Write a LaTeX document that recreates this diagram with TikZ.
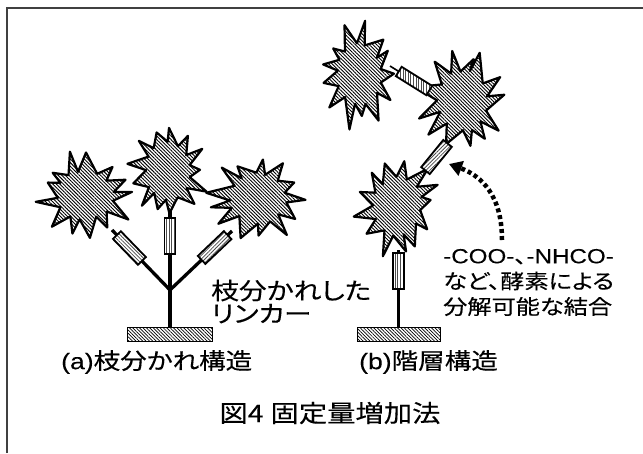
\documentclass[tikz,border=0pt]{standalone}
\usepackage{fontspec}
\newfontfamily\jp[FakeStretch=1.18,FakeBold=0.25,RawFeature={+palt}]{Noto Sans CJK JP}
\newfontfamily\lat[FakeStretch=1.18,FakeBold=0.2]{Liberation Sans}
\usetikzlibrary{patterns.meta,arrows.meta}

% spiky hatched particle: centre, x radius, y radius, seed, last sample index
\newcommand\spikyblob[5]{%
  \pgfmathsetmacro\blobN{#5+1}%
  \pgfmathsetseed{#4}%
  \begin{scope}[shift={(#1)}, xscale=#2, yscale=#3]
    \draw[blobstyle] plot[samples at={0,...,#5}, variable=\k]
      ({\k*360/\blobN + 7*rand}:
       {0.8 + 0.2*cos(180*\k) + 0.09*rand*(1+cos(180*\k)) + 0.03*rand}) -- cycle;
  \end{scope}}

\tikzset{
  frame/.style={line width=1.6pt, draw=black!75},
  blobstyle/.style={draw=black, line width=2.2pt, line join=round,
    preaction={fill=white},
    pattern={Lines[angle=-45,distance=2.5pt,line width=0.9pt]}},
  stem/.style={line width=3.3pt},
  tether/.style={line width=1.6pt},
  linker/.style={draw, line width=1.8pt, minimum width=36pt, minimum height=11pt,
    inner sep=0pt, preaction={fill=white},
    pattern={Lines[angle=#1,distance=2.6pt,line width=0.8pt]}, pattern color=black!70},
  linker/.default=90,
  support/.style={draw, line width=1pt, preaction={fill=white},
    pattern={Lines[angle=-45,distance=2.4pt,line width=0.7pt]},
    minimum width=85pt, minimum height=14pt, inner sep=0pt},
  dotarrow/.style={line width=4.5pt, dash pattern=on 4pt off 3pt,
    -{Triangle[length=13pt,width=15pt]}},
  side/.style={font={\jp\fontsize{23.5}{23}\selectfont}, inner sep=0pt, align=left},
  note/.style={font={\jp\fontsize{20.5}{25.5}\selectfont}, inner sep=0pt, align=left},
  lbl/.style={font={\jp\fontsize{22.5}{24}\selectfont}, inner sep=0pt},
  ttl/.style={font={\jp\fontsize{24}{26}\selectfont}, inner sep=0pt},
}

\begin{document}
\begin{tikzpicture}[x=1pt, y=-1pt]
\useasboundingbox (0,0) rectangle (643,453);

% outer frame (left and top edges)
\draw[frame] (7,453) -- (7,8) -- (643,8);

% ---------- (a) branched linker ----------
\node[support] (baseA) at (170,334) {};
\coordinate (fork) at (170,290);
\coordinate (tipL) at (112,230);
\coordinate (tipM) at (170,208);
\coordinate (tipR) at (232,231);
\coordinate (S1) at (85,195);
\coordinate (S2) at (168,171);
\coordinate (S3) at (258,198);

\draw[stem] (baseA.north) -- (tipM);
\draw[stem] (tipL) -- (fork) -- (tipR);

\spikyblob{S1}{47}{40}{11}{25}
\spikyblob{S2}{38}{48}{23}{25}
\spikyblob{S3}{46}{41}{37}{25}

\path (fork) -- node[linker=-45, sloped, pos=0.70] (lkL) {} (tipL);
\path (fork) -- node[linker, sloped, pos=0.66] (lkM) {} (tipM);
\path (fork) -- node[linker=45, sloped, pos=0.72] (lkR) {} (tipR);

% ---------- (b) layered linker ----------
\node[support, minimum width=83pt] (baseB) at (398.5,334) {};
\coordinate (tipB) at (398.5,250);
\coordinate (B1) at (397,206);
\coordinate (B2) at (463,101);
\coordinate (B3) at (359,74);
\coordinate (P1) at (417,181);
\coordinate (P2) at (456,133);
\coordinate (P3) at (390,66);
\coordinate (P4) at (438,96);

\draw[stem] (baseB.north) -- (tipB);
\draw[tether] (P1) -- (P2);
\draw[tether] (P3) -- (P4);

\spikyblob{B1}{41}{48}{51}{25}
\spikyblob{B2}{42}{50}{67}{25}
\spikyblob{B3}{37}{50}{83}{25}

\path (baseB.north) -- node[linker, sloped, pos=0.73] (lkB) {} (tipB);
\path (P1) -- node[linker=45, sloped, pos=0.5, minimum width=35pt] (lkB12) {} (P2);
\path (P3) -- node[linker, sloped, pos=0.5, minimum width=36pt] (lkB32) {} (P4);

% cleavable bond pointer
\coordinate (arrStart) at (502,240);
\coordinate (arrEnd) at (449,164);
\draw[dotarrow] (arrStart) .. controls (502,196) and (482,176) .. (arrEnd);

% ---------- labels ----------
\node[side, anchor=west] (branchTxt) at (211,301.5) {枝分かれした\\リンカー};
\node[note, anchor=west] (noteTxt) at (443,282.5)
  {{\lat -COO-}、{\lat -NHCO-}\\など、酵素による\\分解可能な結合};
\node[lbl, anchor=west] (capA) at (61,362) {{\lat (a)}枝分かれ構造};
\node[lbl, anchor=west] (capB) at (359,362) {{\lat (b)}階層構造};
\node[ttl] (title) at (330,413) {図4\hspace{7pt}固定量増加法};
\end{tikzpicture}
\end{document}
